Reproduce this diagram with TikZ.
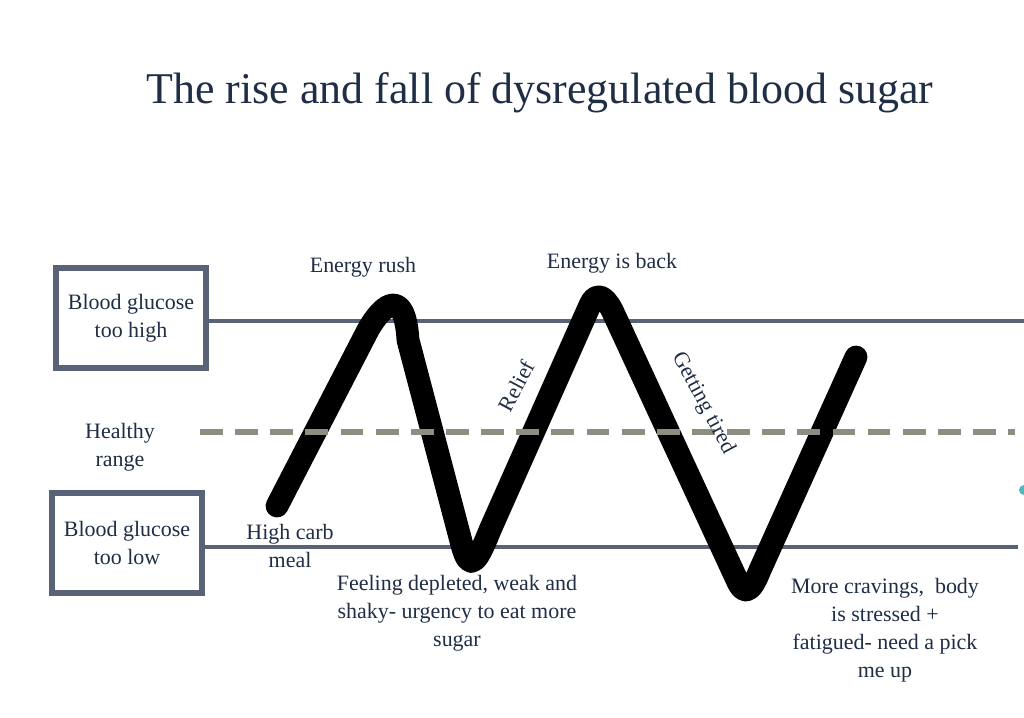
\documentclass[tikz,border=0pt]{standalone}
\usepackage{fontspec}
\setmainfont{Liberation Serif}
\definecolor{navy}{HTML}{1F2D45}
\definecolor{slate}{HTML}{5A6278}
\definecolor{sage}{HTML}{8C8F80}
\definecolor{teal}{HTML}{4FB8C0}
\tikzset{
  levelbox/.style={draw=slate,line width=3.6pt,minimum width=3.0cm,minimum height=2.0cm,align=center,font=\fontsize{12.5}{16}\selectfont,text=navy},
  level/.style={draw=slate,line width=2.2pt},
  lbl/.style={align=center,font=\fontsize{12.5}{16}\selectfont,text=navy},
}
\begin{document}
\begin{tikzpicture}[x=0.02cm,y=-0.02cm]
  \useasboundingbox (0,0) rectangle (1024,717);
  \node[text=navy,font=\fontsize{25}{30}\selectfont] (title) at (540,93) {The rise and fall of dysregulated blood sugar};
  % boxes and levels
  \node[levelbox] (high) at (131,318) {Blood glucose\\too high};
  \node[levelbox] (low) at (127,543) {Blood glucose\\too low};
  \coordinate (highend) at (1024,321);
  \coordinate (lowend) at (1018,547);
  \draw[level] (high.east|-highend) -- (highend);
  \draw[level] (low.east|-lowend) -- (lowend);
  \node[lbl] (healthy) at (120,447) {Healthy\\range};
  \coordinate (hstart) at (200,432);
  \coordinate (hend) at (1015,432);
  % the sugar curve
  \draw[line width=13pt,line cap=round,line join=round] (277,506) -- (368,330)
    .. controls (385,300) and (405,290) .. (408,340) -- (462,545)
    .. controls (470,575) and (478,560) .. (490,530) -- (590,305)
    .. controls (596,292) and (604,295) .. (612,310) -- (737,580)
    .. controls (745,598) and (752,590) .. (760,570) -- (856,357);
  \draw[sage,line width=3.2pt,dash pattern=on 13pt off 7pt] (hstart) -- (hend);
  \fill[teal] (1024,490) circle (5);
  % labels
  \node[lbl] (rush) at (363,267) {Energy rush};
  \node[lbl] (back) at (612,263) {Energy is back};
  \node[lbl] (meal) at (290,546) {High carb\\meal};
  \node[lbl,rotate=62] (relief) at (516,386) {Relief};
  \node[lbl,rotate=-62] (tired) at (703,403) {Getting tired};
  \node[lbl] (depleted) at (457,613) {Feeling depleted, weak and\\shaky- urgency to eat more\\sugar};
  \node[lbl] (cravings) at (885,630) {More cravings,\ \ body\\is stressed +\\fatigued- need a pick\\me up};
\end{tikzpicture}
\end{document}
